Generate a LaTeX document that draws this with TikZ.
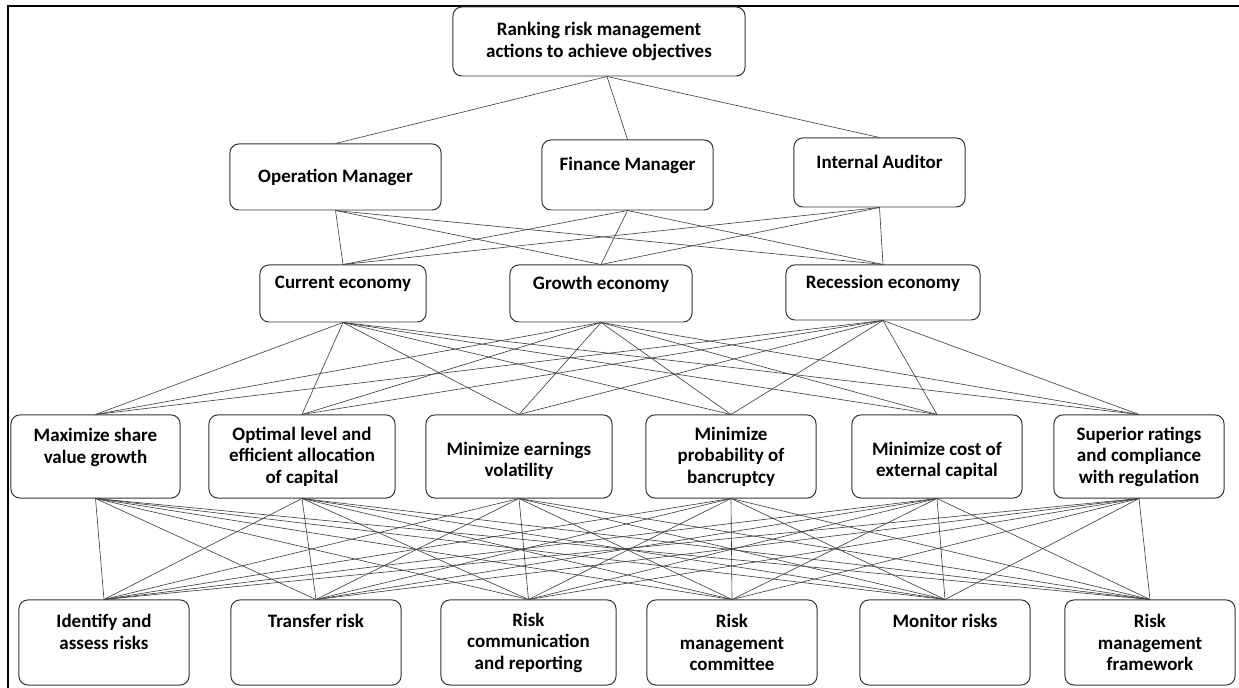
\documentclass[tikz,border=0pt]{standalone}
\usepackage{fontspec}
\setmainfont{Carlito}
\usepackage{tikz}

\tikzset{
  box/.style={draw=black!80, line width=0.7pt, rounded corners=0.22cm, align=center, inner sep=0pt,
              font=\bfseries\fontsize{13.5}{15.3}\selectfont},
  link/.style={draw=black!75, line width=0.45pt}
}

\begin{document}
\begin{tikzpicture}[x=0.025cm, y=-0.025cm]
  \useasboundingbox (0,0) rectangle (1239,688);
  \draw[line width=1.4pt] (8,688) -- (8,6) -- (1239,6);
  % goal
  \node[box, minimum width=7.3cm, minimum height=1.725cm] (goal) at (599,41.5) {Ranking risk management\\actions to achieve objectives};
  \coordinate (goalfoot) at ([xshift=0.2cm]goal.south);
  % decision makers
  \node[box, minimum width=5.275cm, minimum height=1.65cm] (om) at (335.5,177) {Operation Manager};
  \node[box, minimum width=4.275cm, minimum height=1.75cm] (fm) at (627.5,175) {Finance Manager\\~};
  \node[box, minimum width=4.275cm, minimum height=1.725cm] (ia) at (879.5,172.5) {Internal Auditor\\~};
  % scenarios
  \node[box, minimum width=4.15cm, minimum height=1.425cm] (cur) at (343,293.5) {Current economy\\~};
  \node[box, minimum width=4.55cm, minimum height=1.425cm] (gro) at (601,293.5) {Growth economy\\~};
  \node[box, minimum width=4.85cm, minimum height=1.375cm] (rec) at (883,292.5) {Recession economy\\~};
  % objectives
  \node[box, minimum width=4.225cm, minimum height=2.075cm] (obj1) at (95.5,456.5) {Maximize share\\value growth\\~};
  \node[box, minimum width=4.65cm, minimum height=2.075cm] (obj2) at (302,456.5) {Optimal level and\\efficient allocation\\of capital};
  \node[box, minimum width=4.65cm, minimum height=2.075cm] (obj3) at (519,456.5) {~\\Minimize earnings\\volatility};
  \node[box, minimum width=4.25cm, minimum height=2.075cm] (obj4) at (731,456.5) {Minimize\\probability of\\bancruptcy};
  \node[box, minimum width=4.25cm, minimum height=2.075cm] (obj5) at (937,456.5) {~\\Minimize cost of\\external capital};
  \node[box, minimum width=4.25cm, minimum height=2.075cm] (obj6) at (1139,456.5) {Superior ratings\\and compliance\\with regulation};
  % actions
  \node[box, minimum width=4.25cm, minimum height=2.125cm] (act1) at (104,642.5) {Identify and\\assess risks\\~};
  \node[box, minimum width=4.25cm, minimum height=2.125cm] (act2) at (316,642.5) {Transfer risk\\~\\~};
  \node[box, minimum width=4.375cm, minimum height=2.125cm] (act3) at (528.5,642.5) {Risk\\communication\\and reporting};
  \node[box, minimum width=4.25cm, minimum height=2.125cm] (act4) at (732,642.5) {Risk\\management\\committee};
  \node[box, minimum width=4.25cm, minimum height=2.125cm] (act5) at (945,642.5) {Monitor risks\\~\\~};
  \node[box, minimum width=4.25cm, minimum height=2.125cm] (act6) at (1150,642.5) {Risk\\management\\framework};
  % links
  \foreach \a in {om,fm,ia}
    \draw[link] (goalfoot) -- (\a.north);
  \foreach \a in {om,fm,ia}
    \foreach \b in {cur,gro,rec}
      \draw[link] (\a.south) -- (\b.north);
  \foreach \a in {cur,gro,rec}
    \foreach \j in {1,...,6}
      \draw[link] (\a.south) -- (obj\j.north);
  \foreach \i in {1,...,6}
    \foreach \j in {1,...,6}
      \draw[link] (obj\i.south) -- (act\j.north);
\end{tikzpicture}
\end{document}
